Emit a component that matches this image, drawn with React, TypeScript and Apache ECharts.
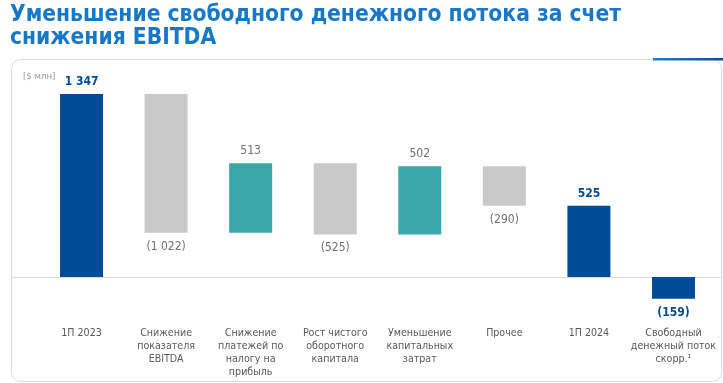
import React, { useEffect, useRef } from "react";
import * as echarts from "echarts";

const titleLines = ["Уменьшение свободного денежного потока за счет", "снижения EBITDA"];
const unitLabel = "[$ млн]";
const categories = [
  "1П 2023",
  "Снижение\nпоказателя\nEBITDA",
  "Снижение\nплатежей по\nналогу на\nприбыль",
  "Рост чистого\nоборотного\nкапитала",
  "Уменьшение\nкапитальных\nзатрат",
  "Прочее",
  "1П 2024",
  "Свободный\nденежный поток\nскорр.¹",
];
const changes = [1347, -1022, 513, -525, 502, -290, 525, -159];
const kinds = ["total", "delta", "delta", "delta", "delta", "delta", "total", "total"];

const COLOR_TOTAL = "#004B96";
const COLOR_UP = "#3BA7AA";
const COLOR_DOWN = "#C9C9C9";
const FONT = "'DejaVu Sans Condensed', Tahoma, 'DejaVu Sans', sans-serif";

function fmt(v: number): string {
  const s = Math.abs(v).toString().replace(/\B(?=(\d{3})+(?!\d))/g, " ");
  return v < 0 ? `(${s})` : s;
}

export default function App() {
  const ref = useRef<HTMLDivElement>(null);
  useEffect(() => {
    document.body.style.margin = "0";
    const chart = echarts.init(ref.current!, undefined, { renderer: "svg" });
    const base: number[] = [];
    const items: any[] = [];
    let running = 0;
    changes.forEach((d, i) => {
      let b = 0;
      let size = d;
      let color = COLOR_TOTAL;
      const total = kinds[i] === "total";
      if (total) {
        b = 0;
        size = d;
        running = d;
      } else if (d > 0) {
        b = running;
        size = d;
        running += d;
        color = COLOR_UP;
      } else {
        running += d;
        b = running;
        size = -d;
        color = COLOR_DOWN;
      }
      base.push(b);
      const below = d < 0;
      items.push({
        value: size,
        itemStyle: { color },
        label: {
          show: true,
          position: below ? "bottom" : "top",
          distance: 7,
          formatter: fmt(d),
          color: total ? COLOR_TOTAL : "#6f6f6f",
          fontWeight: total ? "bold" : "normal",
          fontSize: 12,
          fontFamily: FONT,
        },
      });
    });

    chart.setOption({
      animation: false,
      title: [
        {
          text: titleLines[0],
          left: 10,
          top: 1,
          padding: 0,
          textStyle: {
            color: "#1878C8",
            fontSize: 22.6,
            fontWeight: "bold",
            fontFamily: FONT,
            lineHeight: 23,
          },
        },
        {
          text: titleLines[1],
          left: 10,
          top: 24.5,
          padding: 0,
          textStyle: {
            color: "#1878C8",
            fontSize: 22.6,
            fontWeight: "bold",
            fontFamily: FONT,
            lineHeight: 23,
          },
        },
      ],
      grid: { left: 39.25, right: 7.25, top: 59.56, bottom: 57.04, outerBoundsMode: "none" },
      xAxis: {
        type: "category",
        data: categories,
        axisLine: { show: false },
        axisTick: { show: false },
        axisLabel: {
          interval: 0,
          margin: 0,
          color: "#595959",
          fontSize: 10.6,
          lineHeight: 13,
          fontFamily: FONT,
          verticalAlign: "top",
        },
      },
      yAxis: {
        type: "value",
        min: -360,
        max: 1600,
        show: false,
        splitLine: { show: false },
      },
      series: [
        {
          type: "bar",
          stack: "wf",
          data: base,
          itemStyle: { color: "transparent" },
          barWidth: 43,
          silent: true,
        },
        {
          type: "bar",
          stack: "wf",
          data: items,
          barWidth: 43,
        },
      ],
    });

    const zeroY = chart.convertToPixel({ yAxisIndex: 0 }, 0) as number;
    chart.setOption({
      graphic: [
        {
          type: "rect",
          shape: { x: 11.5, y: 59.5, width: 710, height: 322, r: 9 },
          style: { fill: "none", stroke: "#DADADA", lineWidth: 1 },
          z: -1,
        },
        {
          type: "rect",
          shape: { x: 653, y: 58, width: 70, height: 2.5 },
          style: {
            fill: new echarts.graphic.LinearGradient(0, 0, 1, 0, [
              { offset: 0, color: "#1A80D2" },
              { offset: 1, color: "#0B4C9C" },
            ]),
          },
        },
        {
          type: "line",
          shape: { x1: 12, y1: Math.round(zeroY) + 0.5, x2: 721, y2: Math.round(zeroY) + 0.5 },
          style: { stroke: "#DADADA", lineWidth: 1 },
          z: -1,
        },
        {
          type: "text",
          x: 23,
          y: 75,
          style: {
            text: unitLabel,
            fill: "#9a9a9a",
            fontSize: 9.5,
            fontFamily: FONT,
            verticalAlign: "middle",
          },
        },
      ],
    });
    return () => chart.dispose();
  }, []);
  return <div ref={ref} style={{ position: "fixed", left: 0, top: 0, width: 723, height: 383 }} />;
}
